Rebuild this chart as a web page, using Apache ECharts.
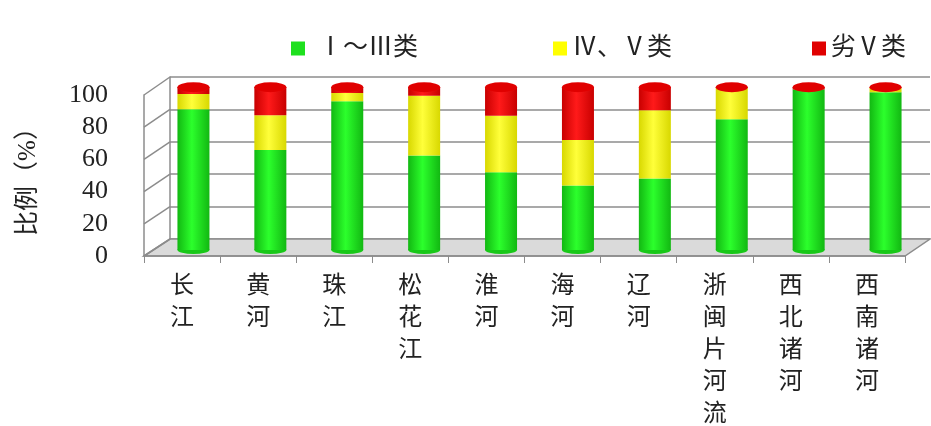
<!DOCTYPE html>
<html><head><meta charset="utf-8">
<script src="https://cdn.jsdelivr.net/npm/echarts@6/dist/echarts.min.js"></script>
<style>html,body{margin:0;padding:0;background:#fff}#c{width:931px;height:426px}</style>
</head><body><div id="c"></div>
<script>
var categories = ['长江','黄河','珠江','松花江','淮河','海河','辽河','浙闽片河流','西北诸河','西南诸河'];
var seriesNames = ['Ⅰ～Ⅲ类','Ⅳ、Ⅴ类','劣Ⅴ类'];
var classI_III = [86.4, 61.3, 91.2, 58.0, 47.7, 39.5, 43.8, 80.2, 98.4, 96.8];
var classIV_V  = [9.3, 21.4, 5.1, 36.6, 34.6, 28.0, 42.0, 19.3, 0.0, 2.7];
var classWorse = [4.3, 17.3, 3.7, 5.4, 17.7, 32.5, 14.2, 0.5, 1.6, 0.5];
var yTicks = [0, 20, 40, 60, 80, 100];

var FONT = '"Liberation Serif", "Noto Sans CJK SC", serif';
function grad(dark, light) {
  return new echarts.graphic.LinearGradient(0, 0, 1, 0, [
    {offset: 0, color: dark}, {offset: 0.45, color: light}, {offset: 1, color: dark}
  ]);
}
var colGreen = grad('#12b812', '#2cff2c');
var colYellow = grad('#d8d800', '#ffff3a');
var colRed = grad('#c80000', '#ff1a1a');
var totals = categories.map(function (c, i) { return classI_III[i] + classIV_V[i] + classWorse[i]; });

function legendFor(idx, left, color, pad) {
  return {
    top: 31, left: left, itemWidth: 14, itemHeight: 14, icon: 'rect',
    textStyle: {fontSize: 25, color: '#222', fontFamily: FONT, padding: [0, 0, 0, pad]},
    data: [{name: seriesNames[idx], itemStyle: {color: color}}]
  };
}

var chart = echarts.init(document.getElementById('c'));
var option = {
  animation: false,
  textStyle: {fontFamily: FONT},
  legend: [
    legendFor(0, 286, '#1ee01e', 8),
    legendFor(1, 548, '#ffff00', 0),
    legendFor(2, 807, '#e00000', 0)
  ],
  grid: [
    {left: 170, right: 1, top: 77, bottom: 187, outerBoundsMode: 'none', containLabel: false},
    {left: 144, right: 26, top: 95, bottom: 170, outerBoundsMode: 'none', containLabel: false},
    {left: 155, right: 7, top: 87, bottom: 176, outerBoundsMode: 'none', containLabel: false}
  ],
  xAxis: [
    {gridIndex: 0, type: 'category', data: categories, show: false},
    {gridIndex: 1, type: 'category', data: categories,
      axisLine: {lineStyle: {color: '#8c8c8c', width: 1.5}},
      axisTick: {show: true, interval: 0, length: 7, lineStyle: {color: '#8c8c8c'}},
      axisLabel: {interval: 0, margin: 15, fontSize: 24, color: '#222', lineHeight: 32,
        verticalAlign: 'top', fontFamily: FONT,
        formatter: function (v) { return v.split('').join('\n'); }}
    },
    {gridIndex: 2, type: 'category', data: categories, show: false}
  ],
  yAxis: [
    {gridIndex: 0, type: 'value', min: 0, max: 100, interval: 20,
      axisLine: {show: true, lineStyle: {color: '#8c8c8c', width: 1.5}},
      axisTick: {show: false}, axisLabel: {show: false},
      splitLine: {lineStyle: {color: '#8c8c8c', width: 1.5}}},
    {gridIndex: 1, type: 'value', min: 0, max: 100, interval: 20,
      axisLine: {show: true, lineStyle: {color: '#8c8c8c', width: 1.5}},
      axisTick: {show: false}, splitLine: {show: false},
      axisLabel: {fontSize: 26, color: '#222', margin: 36, fontFamily: FONT},
      name: '比例（%）', nameLocation: 'middle', nameGap: 103,
      nameTextStyle: {fontSize: 25, color: '#222', fontFamily: FONT}},
    {gridIndex: 2, type: 'value', min: 0, max: 100, show: false}
  ],
  series: [
    {name: seriesNames[0], type: 'bar', stack: 't', xAxisIndex: 2, yAxisIndex: 2, barWidth: 32,
      itemStyle: {color: colGreen}, data: classI_III, z: 3},
    {name: seriesNames[1], type: 'bar', stack: 't', xAxisIndex: 2, yAxisIndex: 2, barWidth: 32,
      itemStyle: {color: colYellow}, data: classIV_V, z: 3},
    {name: seriesNames[2], type: 'bar', stack: 't', xAxisIndex: 2, yAxisIndex: 2, barWidth: 32,
      itemStyle: {color: colRed}, data: classWorse, z: 3},
    {type: 'pictorialBar', xAxisIndex: 2, yAxisIndex: 2, symbol: 'circle', symbolSize: [32, 10],
      symbolPosition: 'end', symbolOffset: [0, '-50%'], data: totals, z: 4,
      itemStyle: {color: '#e00000', borderColor: '#ff5050', borderWidth: 1}},
    {type: 'pictorialBar', xAxisIndex: 2, yAxisIndex: 2, symbol: 'circle', symbolSize: [32, 8],
      symbolPosition: 'start', symbolOffset: [0, '50%'], barGap: '-100%', data: totals, z: 2,
      itemStyle: {color: '#18c818'}}
  ]
};
chart.setOption(option);

// floor and side-wall links derived from the two axis scales
var gm = chart.getModel();
var r0 = gm.getComponent('grid', 0).coordinateSystem.getRect();
var r1 = gm.getComponent('grid', 1).coordinateSystem.getRect();
var graphics = [{
  type: 'polygon', z: 0,
  shape: {points: [[r1.x, r1.y + r1.height], [r0.x, r0.y + r0.height],
    [r0.x + r0.width, r0.y + r0.height], [r1.x + r1.width, r1.y + r1.height]]},
  style: {fill: '#dadada', stroke: '#8c8c8c', lineWidth: 1.5}
}];
yTicks.forEach(function (v) {
  var yb = chart.convertToPixel({yAxisIndex: 0}, v);
  var yf = chart.convertToPixel({yAxisIndex: 1}, v);
  graphics.push({type: 'line', z: 1, shape: {x1: r1.x, y1: yf, x2: r0.x, y2: yb},
    style: {stroke: '#8c8c8c', lineWidth: 1.5}});
});
chart.setOption({graphic: graphics});
</script></body></html>
